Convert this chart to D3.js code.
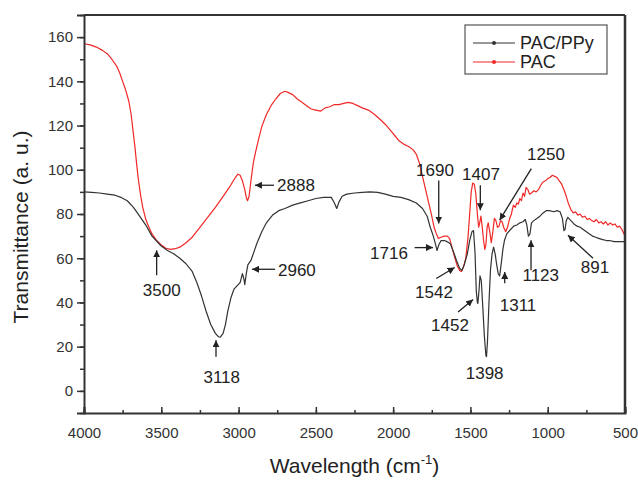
<!DOCTYPE html>
<html>
<head>
<meta charset="utf-8">
<script src="https://cdn.jsdelivr.net/npm/d3@7"></script>
<style>
  body { margin: 0; background: #fff; }
  svg { display: block; font-family: "Liberation Sans", Arial, sans-serif; }
</style>
</head>
<body>
<svg id="chart"></svg>
<script>
// PAC/PPy spectrum (wavenumber, transmittance)
const ppyWave = [4000,3950,3900,3850,3800,3760,3720,3680,3640,3600,3560,3520,3500,3460,3420,3380,3340,3300,3270,3240,3210,3180,3150,3130,3118,3100,3085,3070,3050,3030,3010,2990,2975,2965,2960,2950,2940,2920,2900,2880,2850,2820,2780,2740,2700,2650,2600,2550,2500,2450,2400,2380,2365,2350,2330,2300,2250,2200,2150,2100,2050,2000,1950,1900,1850,1810,1780,1760,1740,1725,1716,1705,1690,1670,1650,1630,1610,1590,1570,1555,1540,1520,1505,1490,1480,1470,1462,1455,1452,1445,1438,1430,1420,1410,1400,1396,1390,1380,1370,1360,1350,1340,1330,1320,1311,1300,1290,1280,1265,1240,1220,1200,1180,1160,1145,1135,1125,1115,1105,1090,1070,1050,1030,1010,990,960,940,920,905,895,888,880,870,850,830,810,790,770,750,730,710,690,670,650,620,600,570,540,500];
const ppyT = [90,89.8,89.5,89,88.5,87.5,86,83,79,75,70,67,65.5,63.5,62,60,57.5,54,49,43,36,30,26,24.5,24.3,26,30,36,42,46,47.5,49,53,50.5,48,53,57,59,63,67,72,76,79.5,81.5,82.5,84,85,86,87,87.5,87.5,85,82.5,85.5,88,89,89.5,89.8,90,89.8,89,88,87.5,86.5,85,82.5,79,74,70,66,63.5,66,68,68,67.5,66.5,63,59,55.5,54.5,57,62,68,72,72.5,62,45,40,39.5,45,52,50,38,25,16,15.5,22,40,55,62,65,62,57,53,52,58,64,68,71,73,74.5,75,76,76.5,77.5,75,70,71,76,77,78,79,80.5,81.5,81.5,81,81.5,81,78,72.5,73,77,78.5,77,75.5,74.5,74,73,72,71,70,69.5,69,68.5,68,68,67.5,67.5,67.5];

// PAC spectrum
const pacWave = [4000,3960,3920,3880,3850,3820,3790,3770,3750,3730,3710,3695,3680,3670,3660,3650,3635,3620,3600,3580,3560,3530,3500,3470,3440,3410,3380,3340,3300,3250,3200,3150,3100,3060,3030,3005,2990,2975,2960,2950,2942,2932,2920,2905,2890,2870,2850,2820,2790,2760,2730,2700,2680,2650,2620,2590,2560,2530,2500,2470,2440,2410,2380,2350,2320,2290,2260,2230,2200,2160,2120,2080,2050,2020,1990,1960,1930,1900,1870,1850,1830,1810,1790,1770,1750,1735,1720,1708,1690,1670,1650,1635,1620,1600,1585,1570,1558,1545,1530,1515,1505,1495,1485,1475,1465,1455,1447,1440,1432,1425,1415,1407,1400,1392,1385,1375,1365,1355,1345,1335,1325,1315,1305,1295,1285,1272,1260,1248,1235,1222,1210,1200,1190,1180,1170,1160,1150,1140,1128,1118,1105,1090,1075,1060,1045,1030,1015,1000,985,970,955,940,925,910,895,880,865,850,835,820,805,790,775,760,745,730,715,700,685,670,655,640,625,610,595,580,565,550,535,520,510,500];
const pacT = [157,156.5,155.5,154,152.5,150,147,144,140,136,131,125,116,110,103,96.5,89,83,77.5,74,71,68,66,64.5,64,64.3,65,67,69.5,74,78.5,83,88,92,95.5,98,97.5,95,91,87.5,86,88,95,103,108,114,119.5,125,129,132,134.5,135.5,135,134,132,130.5,129,127.5,127,126.5,128,128.5,129.5,129.5,130,130.5,130,129,128,127,125,122.5,120.5,118,115.5,113,111.5,110.5,109,107,103,97,91,85,79,74,71,69,69.5,70,70,69,65,60,56.5,54.5,54,56,60,70,80,90,94,93.5,89,80,74,76,79,75,68,64,66,74,76,72,67,72,78,77,74,74.5,77,76.5,74,72,74,77.5,80,84,83,85,84.5,87,86,89.5,88,92,91,89,89.5,90.5,90,91,93,94.5,95,96,96.5,97.5,97,96.5,95,93.5,91,88,84.5,82,80.5,81,79.5,80,78.5,79,77.5,78,77,76.5,77.5,76,76.5,75.5,76.5,75,76,75,75.5,74,74.5,73,71.5,70];

const xTicks = [4000,3500,3000,2500,2000,1500,1000,500];
const yTicks = [0,20,40,60,80,100,120,140,160];

// peak labels: text position, arrow start, arrow tip (data units)
const peaks = [
  {label: "2888", tx: 2751, ty: 93,  anchor: "start",  a: [2771, 93, 2894, 93]},
  {label: "2960", tx: 2745, ty: 54.6, anchor: "start", a: [2764, 55, 2913, 55]},
  {label: "3500", tx: 3497, ty: 45.8, anchor: "middle", a: [3530, 52.3, 3530, 63.6]},
  {label: "3118", tx: 3109, ty: 6.3, anchor: "middle", a: [3146, 15.4, 3146, 22.9]},
  {label: "1690", tx: 1729, ty: 99.8, anchor: "middle", a: [1705, 95.2, 1705, 75.7]},
  {label: "1407", tx: 1432, ty: 98.3, anchor: "middle", a: [1436, 93, 1436, 81.7]},
  {label: "1250", tx: 1011, ty: 107.4, anchor: "middle", a: [1106, 100.5, 1311, 77.2]},
  {label: "1716", tx: 2027, ty: 62.4, anchor: "middle", a: [1861, 64.8, 1742, 64.8]},
  {label: "1542", tx: 1736, ty: 44.7, anchor: "middle", a: [1721, 50.8, 1602, 55.8]},
  {label: "1452", tx: 1632, ty: 29.7, anchor: "middle", a: [1580, 35.7, 1483, 41.3]},
  {label: "1398", tx: 1408, ty: 8.1, anchor: "middle", a: null},
  {label: "1311", tx: 1192, ty: 39, anchor: "middle", a: [1278, 48.7, 1278, 53.8]},
  {label: "1123", tx: 1045, ty: 52.3, anchor: "middle", a: [1108, 54.6, 1108, 68.1]},
  {label: "891", tx: 694, ty: 56, anchor: "middle", a: [707, 60, 869, 70.4]}
];

const width = 638, height = 481;
const marginTop = 15, marginRight = 13, marginBottom = 68, marginLeft = 84;

const svg = d3.select("#chart")
    .attr("width", width)
    .attr("height", height)
    .attr("viewBox", [0, 0, width, height]);

const x = d3.scaleLinear([4000, 500], [marginLeft, width - marginRight]);
const y = d3.scaleLinear([-10, 170], [height - marginBottom, marginTop]);

svg.append("defs").append("marker")
    .attr("id", "arrow")
    .attr("viewBox", "0 0 10 10")
    .attr("refX", 10).attr("refY", 5)
    .attr("markerWidth", 7).attr("markerHeight", 7)
    .attr("markerUnits", "userSpaceOnUse")
    .attr("orient", "auto")
  .append("path")
    .attr("d", "M0,0L10,5L0,10z")
    .attr("fill", "#222");

svg.append("clipPath").attr("id", "clip")
  .append("rect")
    .attr("x", marginLeft).attr("y", marginTop)
    .attr("width", width - marginLeft - marginRight)
    .attr("height", height - marginTop - marginBottom);

const line = d3.line().x(d => x(d[0])).y(d => y(d[1]));

const series = [
  {name: "PAC/PPy", color: "#333", data: d3.zip(ppyWave, ppyT)},
  {name: "PAC", color: "#f02828", data: d3.zip(pacWave, pacT)}
];

const plot = svg.append("g").attr("clip-path", "url(#clip)");
for (const s of [series[1], series[0]]) {
  plot.append("path")
      .attr("d", line(s.data))
      .attr("fill", "none")
      .attr("stroke", s.color)
      .attr("stroke-width", 1.2)
      .attr("stroke-linejoin", "round");
}

// x axis (ticks inward)
const xMinor = d3.range(4000, 499, -250);
svg.append("g")
    .attr("transform", `translate(0,${height - marginBottom})`)
    .call(d3.axisBottom(x).tickValues(xMinor).tickSize(-3).tickFormat(""))
    .call(g => g.select(".domain").remove())
    .call(g => g.selectAll("line").attr("stroke", "#333").attr("stroke-width", 1.5));
svg.append("g")
    .attr("transform", `translate(0,${height - marginBottom})`)
    .call(d3.axisBottom(x).tickValues(xTicks).tickSize(-6).tickPadding(14).tickFormat(d3.format("d")))
    .call(g => g.select(".domain").attr("stroke", "#333").attr("stroke-width", 2))
    .call(g => g.selectAll("line").attr("stroke", "#333").attr("stroke-width", 1.5))
    .call(g => g.selectAll("text").attr("font-size", 15).attr("fill", "#333")
        .attr("font-family", "Liberation Sans, Arial, sans-serif"));

// y axis (ticks outward)
svg.append("g")
    .attr("transform", `translate(${marginLeft},0)`)
    .call(d3.axisLeft(y).tickValues(d3.range(-10, 171, 10)).tickSize(4).tickFormat(""))
    .call(g => g.select(".domain").remove())
    .call(g => g.selectAll("line").attr("stroke", "#333").attr("stroke-width", 1.5));
svg.append("g")
    .attr("transform", `translate(${marginLeft},0)`)
    .call(d3.axisLeft(y).tickValues(yTicks).tickSize(7).tickPadding(4))
    .call(g => g.select(".domain").attr("stroke", "#333").attr("stroke-width", 2))
    .call(g => g.selectAll("line").attr("stroke", "#333").attr("stroke-width", 1.5))
    .call(g => g.selectAll("text").attr("font-size", 15).attr("fill", "#333")
        .attr("font-family", "Liberation Sans, Arial, sans-serif"));

// frame top / right
svg.append("line")
    .attr("x1", marginLeft).attr("x2", width - marginRight)
    .attr("y1", marginTop).attr("y2", marginTop)
    .attr("stroke", "#333").attr("stroke-width", 2);
svg.append("line")
    .attr("x1", width - marginRight).attr("x2", width - marginRight)
    .attr("y1", marginTop).attr("y2", height - marginBottom)
    .attr("stroke", "#333").attr("stroke-width", 2.5);

// axis titles
svg.append("text")
    .attr("x", (marginLeft + width - marginRight) / 2)
    .attr("y", 473)
    .attr("text-anchor", "middle")
    .attr("font-size", 21)
    .attr("fill", "#222")
    .text("Wavelength (cm")
    .call(t => t.append("tspan").attr("dy", -9).attr("font-size", 13).text("-1"))
    .call(t => t.append("tspan").attr("dy", 9).text(")"));

svg.append("text")
    .attr("transform", `translate(28,227) rotate(-90)`)
    .attr("text-anchor", "middle")
    .attr("font-size", 21)
    .attr("fill", "#222")
    .text("Transmittance (a. u.)");

// peak annotations
const ann = svg.append("g").attr("fill", "#222").attr("font-size", 17);
for (const p of peaks) {
  ann.append("text")
      .attr("x", x(p.tx))
      .attr("y", y(p.ty))
      .attr("dy", "0.36em")
      .attr("text-anchor", p.anchor)
      .text(p.label);
  if (p.a) {
    ann.append("line")
        .attr("x1", x(p.a[0])).attr("y1", y(p.a[1]))
        .attr("x2", x(p.a[2])).attr("y2", y(p.a[3]))
        .attr("stroke", "#222").attr("stroke-width", 1.3)
        .attr("marker-end", "url(#arrow)");
  }
}

// legend
const legend = svg.append("g");
legend.append("rect")
    .attr("x", 465).attr("y", 25)
    .attr("width", 142).attr("height", 49)
    .attr("fill", "#fff")
    .attr("stroke", "#555").attr("stroke-width", 1.2);
series.forEach((s, i) => {
  const ly = 43 + i * 19;
  legend.append("line")
      .attr("x1", 473).attr("x2", 515)
      .attr("y1", ly).attr("y2", ly)
      .attr("stroke", s.color).attr("stroke-width", 1.2);
  legend.append("circle")
      .attr("cx", 494).attr("cy", ly).attr("r", 2)
      .attr("fill", s.color);
  legend.append("text")
      .attr("x", 520).attr("y", ly)
      .attr("dy", "0.36em")
      .attr("font-size", 18)
      .attr("fill", "#222")
      .text(s.name);
});
</script>
</body>
</html>
